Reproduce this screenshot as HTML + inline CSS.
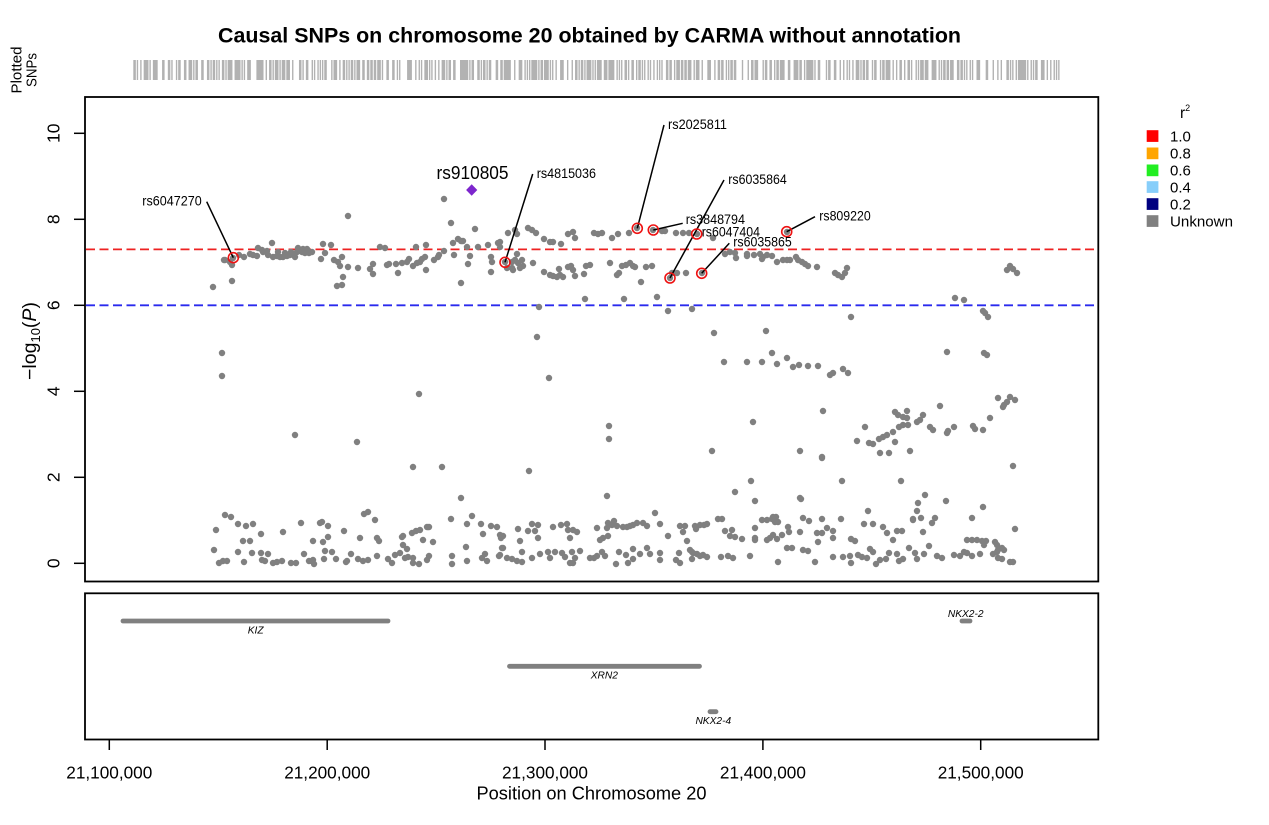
<!DOCTYPE html>
<html><head><meta charset="utf-8"><style>
html,body{margin:0;padding:0;background:#fff;}
svg{display:block;font-family:"Liberation Sans",sans-serif;}
</style></head><body>
<svg width="1269" height="825" viewBox="0 0 1269 825" xmlns="http://www.w3.org/2000/svg">
<rect width="1269" height="825" fill="#fff"/>
<!-- title -->
<text x="589.5" y="42.5" text-anchor="middle" font-size="21.5" font-weight="bold" textLength="743" lengthAdjust="spacingAndGlyphs">Causal SNPs on chromosome 20 obtained by CARMA without annotation</text>
<!-- Plotted SNPs -->
<text transform="translate(21.5,70) rotate(-90)" text-anchor="middle" font-size="14.5" textLength="47" lengthAdjust="spacingAndGlyphs">Plotted</text>
<text transform="translate(36.5,70) rotate(-90)" text-anchor="middle" font-size="14.5" textLength="34" lengthAdjust="spacingAndGlyphs">SNPs</text>
<!-- SNP bar -->
<g transform="translate(134 0) scale(1.1503 1) translate(-213 0)">
<path fill="none" stroke="#000" stroke-opacity="0.3" stroke-width="1.2" d="M213 60v20M224 60v20M225 60v20M230 60v20M232 60v20M233 60v20M232 60v20M222 60v20M222 60v20M239 60v20M244 60v20M250 60v20M253 60v20M257 60v20M258 60v20M262 60v20M267 60v20M272 60v20M273 60v20M277 60v20M280 60v20M283 60v20M287 60v20M290 60v20M293 60v20M297 60v20M298 60v20M302 60v20M305 60v20M307 60v20M309 60v20M312 60v20M263 60v20M268 60v20M291 60v20M303 60v20M295 60v20M285 60v20M278 60v20M323 60v20M331 60v20M321 60v20M325 60v20M334 60v20M338 60v20M340 60v20M342 60v20M348 60v20M343 60v20M337 60v20M342 60v20M348 60v20M358 60v20M370 60v20M373 60v20M373 60v20M380 60v20M385 60v20M387 60v20M389 60v20M396 60v20M398 60v20M402 60v20M407 60v20M409 60v20M413 60v20M416 60v20M417 60v20M420 60v20M422 60v20M425 60v20M426 60v20M426 60v20M434 60v20M438 60v20M439 60v20M444 60v20M444 60v20M451 60v20M453 60v20M458 60v20M461 60v20M463 60v20M467 60v20M454 60v20M461 60v20M468 60v20M470 60v20M475 60v20M478 60v20M488 60v20M491 60v20M492 60v20M491 60v20M498 60v20M500 60v20M500 60v20M505 60v20M508 60v20M515 60v20M517 60v20M517 60v20M512 60v20M515 60v20M518 60v20M522 60v20M523 60v20M520 60v20M513 60v20M507 60v20M512 60v20M528 60v20M532 60v20M536 60v20M533 60v20M544 60v20M550 60v20M553 60v20M561 60v20M544 60v20M550 60v20M553 60v20M557 60v20M560 60v20M563 60v20M559 60v20M568 60v20M573 60v20M575 60v20M568 60v20M571 60v20M573 60v20M575 60v20M584 60v20M586 60v20M590 60v20M585 60v20M594 60v20M598 60v20M602 60v20M610 60v20M617 60v20M619 60v20M612 60v20M618 60v20M622 60v20M626 60v20M630 60v20M633 60v20M635 60v20M624 60v20M629 60v20M637 60v20M653 60v20M662 60v20M665 60v20M641 60v20M646 60v20M652 60v20M657 60v20M676 60v20M683 60v20M689 60v20M697 60v20M713 60v20M670 60v20M672 60v20M677 60v20M686 60v20M702 60v20M668 60v20M692 60v20M539 60v20M537 60v20M714 60v20M766 60v20M725 60v20M730 60v20M735 60v20M736 60v20M747 60v20M747 60v20M754 60v20M760 60v20M763 60v20M767 60v20M772 60v20M762 60v20M777 60v20M783 60v20M787 60v20M790 60v20M796 60v20M798 60v20M802 60v20M805 60v20M808 60v20M817 60v20M787 60v20M835 60v20M838 60v20M842 60v20M845 60v20M847 60v20M851 60v20M724 60v20M747 60v20M762 60v20M772 60v20M777 60v20M787 60v20M793 60v20M799 60v20M808 60v20M818 60v20M830 60v20M833 60v20M843 60v20M848 60v20M549 60v20M419 60v20M295 60v20M357 60v20M413 60v20M442 60v20M461 60v20M529 60v20M609 60v20M609 60v20M607 60v20M712 60v20M753 60v20M751 60v20M755 60v20M735 60v20M800 60v20M801 60v20M822 60v20M1007 60v20M1010 60v20M1013 60v20M1017 60v20M955 60v20M964 60v20M983 60v20M985 60v20M988 60v20M947 60v20M984 60v20M987 60v20M823 60v20M998 60v20M1003 60v20M1007 60v20M1010 60v20M1015 60v20M1004 60v20M940 60v20M990 60v20M895 60v20M898 60v20M903 60v20M907 60v20M907 60v20M917 60v20M923 60v20M920 60v20M865 60v20M899 60v20M903 60v20M908 60v20M930 60v20M933 60v20M947 60v20M948 60v20M954 60v20M973 60v20M975 60v20M983 60v20M857 60v20M869 60v20M873 60v20M879 60v20M883 60v20M887 60v20M893 60v20M895 60v20M880 60v20M889 60v20M910 60v20M822 60v20M1013 60v20M842 60v20M901 60v20M800 60v20M925 60v20M918 60v20M917 60v20M946 60v20M983 60v20M868 60v20M913 60v20M225 60v20M231 60v20M216 60v20M214 60v20M238 60v20M246 60v20M253 60v20M261 60v20M243 60v20M250 60v20M238 60v20M252 60v20M261 60v20M268 60v20M244 60v20M219 60v20M223 60v20M227 60v20M262 60v20M265 60v20M273 60v20M277 60v20M282 60v20M291 60v20M296 60v20M283 60v20M301 60v20M304 60v20M309 60v20M313 60v20M314 60v20M313 60v20M320 60v20M322 60v20M323 60v20M328 60v20M328 60v20M325 60v20M332 60v20M324 60v20M336 60v20M344 60v20M346 60v20M347 60v20M351 60v20M358 60v20M363 60v20M368 60v20M360 60v20M364 60v20M368 60v20M375 60v20M377 60v20M379 60v20M377 60v20M388 60v20M392 60v20M395 60v20M400 60v20M403 60v20M402 60v20M403 60v20M407 60v20M405 60v20M408 60v20M412 60v20M416 60v20M420 60v20M427 60v20M429 60v20M423 60v20M433 60v20M429 60v20M427 60v20M413 60v20M413 60v20M419 60v20M451 60v20M452 60v20M452 60v20M467 60v20M472 60v20M466 60v20M467 60v20M481 60v20M483 60v20M491 60v20M497 60v20M482 60v20M485 60v20M487 60v20M499 60v20M501 60v20M502 60v20M500 60v20M503 60v20M503 60v20M500 60v20M507 60v20M512 60v20M517 60v20M522 60v20M518 60v20M520 60v20M522 60v20M528 60v20M532 60v20M535 60v20M538 60v20M538 60v20M532 60v20M540 60v20M548 60v20M550 60v20M553 60v20M555 60v20M561 60v20M562 60v20M567 60v20M568 60v20M570 60v20M565 60v20M570 60v20M573 60v20M572 60v20M575 60v20M580 60v20M577 60v20M573 60v20M590 60v20M594 60v20M597 60v20M602 60v20M600 60v20M603 60v20M597 60v20M607 60v20M608 60v20M612 60v20M614 60v20M617 60v20M623 60v20M627 60v20M630 60v20M633 60v20M637 60v20M608 60v20M605 60v20M616 60v20M619 60v20M626 60v20M628 60v20M633 60v20M633 60v20M640 60v20M647 60v20M650 60v20M643 60v20M647 60v20M655 60v20M660 60v20M660 60v20M660 60v20M668 60v20M676 60v20M680 60v20M679 60v20M680 60v20M683 60v20M685 60v20M687 60v20M690 60v20M692 60v20M693 60v20M697 60v20M700 60v20M703 60v20M707 60v20M692 60v20M695 60v20M696 60v20M700 60v20M704 60v20M707 60v20M718 60v20M722 60v20M721 60v20M728 60v20M733 60v20M725 60v20M730 60v20M732 60v20M735 60v20M742 60v20M750 60v20M755 60v20M755 60v20M755 60v20M762 60v20M767 60v20M772 60v20M773 60v20M776 60v20M775 60v20M778 60v20M767 60v20M770 60v20M773 60v20M777 60v20M782 60v20M778 60v20M787 60v20M792 60v20M788 60v20M789 60v20M803 60v20M809 60v20M822 60v20M841 60v20M913 60v20M921 60v20M932 60v20M935 60v20M972 60v20M864 60v20M873 60v20M883 60v20M887 60v20M897 60v20M902 60v20M800 60v20M817 60v20M822 60v20M827 60v20M833 60v20M818 60v20M833 60v20M851 60v20M855 60v20M923 60v20M893 60v20M1015 60v20M967 60v20M972 60v20M977 60v20M982 60v20M986 60v20M984 60v20M995 60v20M997 60v20M998 60v20M1002 60v20M1004 60v20M803 60v20M808 60v20M815 60v20M833 60v20M843 60v20M850 60v20M851 60v20M858 60v20M862 60v20M867 60v20M870 60v20M873 60v20M876 60v20M880 60v20M886 60v20M889 60v20M897 60v20M899 60v20M903 60v20M909 60v20M915 60v20M917 60v20M924 60v20M929 60v20M937 60v20M942 60v20M954 60v20M960 60v20M964 60v20M967 60v20M972 60v20M980 60v20M993 60v20M997 60v20M998 60v20M1002 60v20M1010 60v20M1013 60v20"/>
</g>

<!-- main panel -->
<rect x="85" y="97" width="1013.3" height="484.5" fill="none" stroke="#000" stroke-width="1.8"/>
<!-- y ticks -->
<g stroke="#000" stroke-width="1.5">
<line x1="74" y1="563.3" x2="85" y2="563.3"/>
<line x1="74" y1="477.3" x2="85" y2="477.3"/>
<line x1="74" y1="391.3" x2="85" y2="391.3"/>
<line x1="74" y1="305.3" x2="85" y2="305.3"/>
<line x1="74" y1="219.3" x2="85" y2="219.3"/>
<line x1="74" y1="133.3" x2="85" y2="133.3"/>
</g>
<g font-size="17.5" text-anchor="middle">
<text transform="translate(59.5,563.3) rotate(-90)">0</text>
<text transform="translate(59.5,477.3) rotate(-90)">2</text>
<text transform="translate(59.5,391.3) rotate(-90)">4</text>
<text transform="translate(59.5,305.3) rotate(-90)">6</text>
<text transform="translate(59.5,219.3) rotate(-90)">8</text>
<text transform="translate(59.5,133.3) rotate(-90)">10</text>
</g>
<text transform="translate(36,341) rotate(-90)" text-anchor="middle" font-size="19.5">−log<tspan font-size="13" dy="4">10</tspan><tspan dy="-4">(</tspan><tspan font-style="italic">P</tspan>)</text>

<!-- threshold lines -->
<line x1="86" y1="249.4" x2="1097" y2="249.4" stroke="#ee2222" stroke-width="1.8" stroke-dasharray="9 4.5"/>
<line x1="86" y1="305.3" x2="1097" y2="305.3" stroke="#2a2aee" stroke-width="1.8" stroke-dasharray="9 4.5"/>

<!-- points -->
<path fill="none" stroke="#808080" stroke-width="6.4" stroke-linecap="round" d="
M213 287h0M224 260h0M225 260h0M230 262h0M232 265h0M233 258h0M232 281h0M222 353h0M222 376h0M239 255h0M244 257h0
M250 254h0M253 255h0M257 256h0M258 248h0M262 250h0M267 251h0M272 243h0M273 257h0M277 256h0M280 257h0M283 257h0M287 256h0M290 255h0M293 254h0M297 252h0M298 248h0M302 252h0M305 253h0M307 249h0M309 253h0M312 252h0M263 252h0M268 255h0M291 252h0M303 249h0M295 257h0M285 253h0M278 252h0
M323 244h0M331 245h0M321 259h0M325 253h0M334 260h0M338 262h0M340 266h0M342 257h0M348 267h0M343 277h0M337 286h0M342 285h0M348 216h0M358 268h0M370 269h0M373 264h0M373 274h0M380 247h0M385 248h0M387 265h0M389 264h0M396 264h0M398 273h0M402 263h0M407 262h0M409 259h0M413 266h0M416 247h0M417 263h0M420 262h0M422 259h0M425 257h0M426 270h0M426 245h0M434 260h0M438 257h0M439 255h0M444 251h0M444 199h0M451 223h0M453 243h0M458 239h0M461 241h0M463 241h0M467 247h0M454 255h0M461 283h0M468 264h0M470 256h0M475 229h0M478 247h0M488 245h0M491 257h0M492 262h0M491 272h0M498 243h0M500 247h0M500 242h0
M505 262h0M508 233h0M515 230h0M517 234h0M517 254h0M512 262h0M515 260h0M518 263h0M522 260h0M523 266h0M520 268h0M513 270h0M507 268h0M512 268h0M528 228h0M532 230h0M536 233h0M533 263h0M544 239h0M550 242h0M553 242h0M561 244h0M544 272h0M550 275h0M553 276h0M557 277h0M560 275h0M563 277h0M559 269h0M568 234h0M573 232h0M575 238h0M568 267h0M571 266h0M573 270h0M575 276h0M584 274h0M586 266h0M590 265h0M585 299h0M594 233h0M598 234h0M602 233h0M610 263h0M617 275h0M619 273h0M612 238h0M618 234h0M622 266h0M626 265h0M630 263h0M633 266h0M635 267h0M624 299h0M629 233h0M637 228h0M653 230h0M662 231h0M665 231h0M641 282h0M646 267h0M652 266h0M657 297h0M676 233h0M683 233h0M689 233h0M697 234h0M713 238h0M670 278h0M672 273h0M677 273h0M686 273h0M702 273h0M668 311h0M692 309h0M539 307h0M537 337h0M714 333h0M766 331h0M725 254h0M730 252h0M735 253h0M736 258h0M747 254h0M747 256h0M754 255h0M760 254h0M763 257h0M767 255h0M772 256h0M762 259h0M777 262h0M783 260h0M787 260h0M790 260h0M796 257h0M798 260h0M802 262h0M805 264h0M808 266h0M817 267h0M787 232h0M835 273h0M838 275h0M842 277h0M845 273h0M847 268h0M851 317h0
M724 362h0M747 362h0M762 362h0M772 353h0M777 364h0M787 358h0M793 367h0M799 365h0M808 366h0M818 366h0M830 375h0M833 373h0M843 369h0M848 373h0M549 378h0M419 394h0M295 435h0M357 442h0M413 467h0M442 467h0M461 498h0M529 471h0M609 426h0M609 439h0M607 496h0M712 451h0M753 422h0M751 481h0M755 501h0M735 492h0M800 451h0M801 499h0M822 458h0
M1007 270h0M1010 266h0M1013 269h0M1017 273h0M955 298h0M964 300h0M983 311h0M985 313h0M988 317h0M947 352h0M984 353h0M987 355h0M823 411h0M998 398h0M1003 407h0M1007 402h0M1010 397h0M1015 400h0M1004 405h0M940 406h0M990 418h0M895 412h0M898 415h0M903 417h0M907 411h0M907 418h0M917 422h0M923 415h0M920 420h0M865 427h0M899 427h0M903 425h0M908 425h0M930 427h0M933 430h0M947 433h0M948 431h0M954 427h0M973 426h0M975 429h0M983 430h0M857 441h0M869 443h0M873 444h0M879 439h0M883 437h0M887 435h0M893 432h0M895 442h0M880 453h0M889 453h0M910 451h0M822 457h0M1013 466h0M842 481h0M901 481h0M800 498h0M925 495h0M918 503h0M917 511h0M946 501h0M983 507h0M868 511h0M913 520h0
M225 515h0M231 517h0M216 530h0M214 550h0M238 524h0M246 526h0M253 524h0M261 534h0M243 541h0M250 541h0M238 552h0M252 553h0M261 553h0M268 554h0M244 562h0M219 563h0M223 561h0M227 561h0M262 560h0M265 561h0M273 563h0M277 562h0M282 561h0M291 563h0M296 563h0M283 532h0M301 523h0M304 554h0M309 561h0M313 560h0M314 564h0M313 541h0M320 523h0M322 522h0M323 542h0M328 526h0M328 537h0M325 551h0M332 552h0M324 559h0M336 559h0M344 531h0M346 562h0M347 561h0M351 554h0M358 559h0M363 561h0M368 560h0M360 538h0M364 514h0M368 512h0M375 520h0M377 538h0M379 541h0M377 556h0M388 559h0M392 563h0M395 555h0M400 553h0M403 545h0M402 537h0M403 536h0M407 549h0M405 558h0M408 557h0M412 533h0M416 531h0M420 530h0M427 527h0M429 527h0M423 540h0M433 542h0M429 556h0M427 560h0M413 558h0M413 563h0M419 564h0M451 519h0M452 556h0M452 564h0M467 524h0M472 516h0M466 547h0M467 561h0M481 524h0M483 534h0M491 526h0M497 527h0M482 558h0M485 554h0M487 561h0M499 556h0M501 538h0M502 548h0
M500 535h0M503 536h0M503 548h0M500 555h0M507 558h0M512 559h0M517 561h0M522 562h0M518 529h0M520 541h0M522 552h0M528 531h0M532 524h0M535 531h0M538 525h0M538 538h0M532 558h0M540 554h0M548 552h0M550 558h0M553 527h0M555 552h0M561 525h0M562 553h0M567 524h0M568 530h0M570 538h0M565 557h0M570 563h0M573 563h0M572 552h0M575 558h0M580 551h0M577 532h0M573 530h0
M590 558h0M594 558h0M597 556h0M602 552h0M600 540h0M603 538h0M597 528h0M607 528h0M608 523h0M612 525h0M614 521h0M617 526h0M623 527h0M627 527h0M630 526h0M633 525h0M637 523h0M608 536h0M605 556h0M616 564h0M619 552h0M626 555h0M628 563h0M633 559h0M633 549h0M640 554h0M647 548h0M650 554h0M643 523h0M647 526h0M655 513h0M660 524h0M660 553h0M660 560h0M668 536h0
M676 560h0M680 563h0M679 553h0M680 526h0M683 532h0M685 526h0M687 541h0M690 550h0M692 552h0M693 553h0M697 554h0M700 556h0M703 555h0M707 557h0M692 559h0M695 526h0M696 529h0M700 525h0M704 525h0M707 524h0M718 519h0M722 519h0M721 557h0M728 556h0M733 558h0M725 531h0M730 536h0M732 530h0M735 537h0M742 539h0M750 556h0M755 528h0M755 538h0M755 540h0
M762 520h0M767 520h0M772 519h0M773 517h0M776 517h0M775 522h0M778 522h0M767 540h0M770 538h0M773 535h0M777 539h0M782 535h0M778 562h0M787 548h0M792 548h0M788 527h0M789 532h0
M803 518h0M809 521h0M822 519h0M841 519h0M913 519h0M921 518h0M932 523h0M935 518h0M972 518h0M864 524h0M873 524h0M883 527h0M887 533h0M897 531h0M902 531h0M800 532h0M817 533h0M822 533h0M827 528h0M833 531h0M818 542h0M833 538h0M851 539h0M855 541h0M923 532h0M893 540h0M1015 529h0M967 540h0M972 540h0M977 540h0M982 541h0M986 541h0M984 545h0M995 542h0M997 545h0M998 550h0M1002 548h0M1004 550h0
M803 550h0M808 551h0M815 562h0M833 557h0M843 557h0M850 556h0M851 563h0M858 555h0M862 557h0M867 558h0M870 549h0M873 552h0M876 564h0M880 560h0M886 559h0M889 553h0M897 554h0M899 561h0M903 559h0M909 548h0M915 553h0M917 559h0M924 554h0M929 546h0M937 556h0M942 558h0M954 555h0M960 556h0M964 552h0M967 553h0M972 556h0M980 554h0M993 554h0M997 552h0M998 558h0M1002 559h0M1010 562h0M1013 562h0
"/>

<!-- lead diamond -->
<polygon points="471.7,184.3 477.3,190 471.7,195.7 466.1,190" fill="#7d26cd"/>

<!-- label lines -->
<g stroke="#000" stroke-width="1.5">
<line x1="206.7" y1="201.7" x2="233.3" y2="257.7"/>
<line x1="532.7" y1="174" x2="505" y2="262.3"/>
<line x1="664" y1="125" x2="637.3" y2="228.3"/>
<line x1="682.7" y1="223.3" x2="653.3" y2="230"/>
<line x1="724" y1="180" x2="670" y2="278"/>
<line x1="729.3" y1="243.3" x2="701.7" y2="273.3"/>
<line x1="815" y1="216.7" x2="786.7" y2="231.7"/>
</g>
<!-- red circles -->
<g fill="none" stroke="#ee1111" stroke-width="1.6">
<circle cx="233.3" cy="257.7" r="5"/>
<circle cx="505" cy="262.3" r="5"/>
<circle cx="637.3" cy="228.3" r="5"/>
<circle cx="653.3" cy="230" r="5"/>
<circle cx="696.7" cy="234" r="5"/>
<circle cx="670" cy="278" r="5"/>
<circle cx="701.7" cy="273.3" r="5"/>
<circle cx="786.7" cy="231.7" r="5"/>
</g>
<!-- labels -->
<g font-size="14">
<text x="142.3" y="205.5" textLength="59.4" lengthAdjust="spacingAndGlyphs">rs6047270</text>
<text x="536.7" y="178" textLength="59.3" lengthAdjust="spacingAndGlyphs">rs4815036</text>
<text x="668" y="129" textLength="59" lengthAdjust="spacingAndGlyphs">rs2025811</text>
<text x="685.7" y="224" textLength="59.3" lengthAdjust="spacingAndGlyphs">rs3848794</text>
<text x="728.3" y="184" textLength="58.4" lengthAdjust="spacingAndGlyphs">rs6035864</text>
<text x="701.7" y="236.5" textLength="58.3" lengthAdjust="spacingAndGlyphs">rs6047404</text>
<text x="733.3" y="246.5" textLength="58.4" lengthAdjust="spacingAndGlyphs">rs6035865</text>
<text x="819.3" y="220.5" textLength="51.4" lengthAdjust="spacingAndGlyphs">rs809220</text>
</g>
<text x="436.5" y="179" font-size="18" textLength="72" lengthAdjust="spacingAndGlyphs">rs910805</text>

<!-- legend -->
<text x="1180" y="118" font-size="15.5">r<tspan font-size="9" dy="-7">2</tspan></text>
<rect x="1146.7" y="130.2" width="11.7" height="11.7" fill="#ff0000"/>
<rect x="1146.7" y="147.5" width="11.7" height="11.7" fill="#ffa500"/>
<rect x="1146.7" y="164.5" width="11.7" height="11.7" fill="#22ee22"/>
<rect x="1146.7" y="181.2" width="11.7" height="11.7" fill="#87cefa"/>
<rect x="1146.7" y="198.2" width="11.7" height="11.7" fill="#000080"/>
<rect x="1146.7" y="215.2" width="11.7" height="11.7" fill="#808080"/>
<g font-size="15">
<text x="1170" y="141.3">1.0</text>
<text x="1170" y="158.6">0.8</text>
<text x="1170" y="175.6">0.6</text>
<text x="1170" y="192.3">0.4</text>
<text x="1170" y="209.3">0.2</text>
<text x="1170" y="226.3" textLength="63" lengthAdjust="spacingAndGlyphs">Unknown</text>
</g>

<!-- gene panel -->
<rect x="85" y="593.3" width="1013.3" height="146.2" fill="none" stroke="#000" stroke-width="1.8"/>
<g stroke="#808080" stroke-width="4.8" stroke-linecap="round">
<line x1="123" y1="621" x2="388" y2="621"/>
<line x1="509.5" y1="666.3" x2="699.5" y2="666.3"/>
<line x1="710" y1="711.7" x2="716" y2="711.7"/>
<line x1="962" y1="621" x2="970" y2="621"/>
</g>
<g font-size="10.2" font-style="italic" text-anchor="middle">
<text x="255.7" y="633.5">KIZ</text>
<text x="604.3" y="678.5">XRN2</text>
<text x="713.3" y="724">NKX2-4</text>
<text x="965.7" y="617">NKX2-2</text>
</g>

<!-- x axis -->
<g stroke="#000" stroke-width="1.5">
<line x1="109.3" y1="739.5" x2="109.3" y2="750"/>
<line x1="327.2" y1="739.5" x2="327.2" y2="750"/>
<line x1="545" y1="739.5" x2="545" y2="750"/>
<line x1="762.9" y1="739.5" x2="762.9" y2="750"/>
<line x1="980.7" y1="739.5" x2="980.7" y2="750"/>
</g>
<g font-size="17.5" text-anchor="middle">
<text x="109.3" y="778.5" textLength="86" lengthAdjust="spacingAndGlyphs">21,100,000</text>
<text x="327.2" y="778.5" textLength="86" lengthAdjust="spacingAndGlyphs">21,200,000</text>
<text x="545" y="778.5" textLength="86" lengthAdjust="spacingAndGlyphs">21,300,000</text>
<text x="762.9" y="778.5" textLength="86" lengthAdjust="spacingAndGlyphs">21,400,000</text>
<text x="980.7" y="778.5" textLength="86" lengthAdjust="spacingAndGlyphs">21,500,000</text>
</g>
<text x="591.5" y="799.5" font-size="18.5" text-anchor="middle" textLength="230" lengthAdjust="spacingAndGlyphs">Position on Chromosome 20</text>
</svg>
</body></html>
